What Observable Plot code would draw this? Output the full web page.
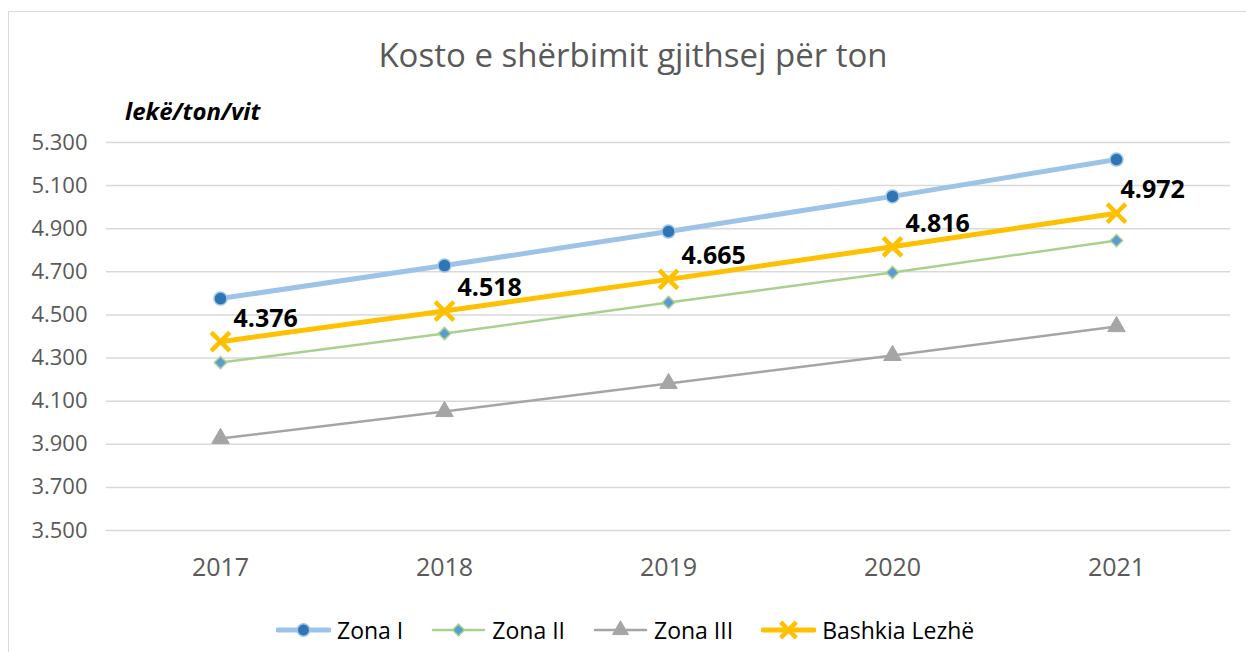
<!DOCTYPE html>
<html>
<head>
<meta charset="utf-8">
<script src="https://cdn.jsdelivr.net/npm/d3@7"></script>
<script src="https://cdn.jsdelivr.net/npm/@observablehq/plot@0.6"></script>
<style>
  html, body { margin: 0; padding: 0; background: #fff; }
  body { width: 1246px; height: 652px; position: relative; overflow: hidden; font-family: "Open Sans", sans-serif; }
  #frame { position: absolute; left: 8px; top: 11px; width: 1260px; height: 680px; border: 1.5px solid #d9d9d9; box-sizing: border-box; }
  #title { position: absolute; left: 0; width: 1266px; top: 32px; text-align: center; font-size: 33px; color: #595959; }
  #ylab { position: absolute; left: 125px; top: 94px; font-size: 24px; font-weight: bold; font-style: italic; color: #000; }
  #chart { position: absolute; left: 0; top: 0; }
  #legend { position: absolute; left: 276px; top: 614px; display: flex; align-items: center; font-size: 23px; color: #000; }
  .item { display: flex; align-items: center; margin-right: 28px; }
  .item svg { margin-right: 6px; }
</style>
</head>
<body>
<div id="frame"></div>
<div id="title">Kosto e shërbimit gjithsej për ton</div>
<div id="ylab">lekë/ton/vit</div>
<div id="chart"></div>
<div id="legend"></div>
<script>
const years = ["2017", "2018", "2019", "2020", "2021"];
const zonaI = [4576, 4729, 4887, 5050, 5221];
const zonaII = [4279, 4414, 4558, 4697, 4845];
const zonaIII = [3927, 4052, 4182, 4312, 4446];
const lezhe = [4376, 4518, 4665, 4816, 4972];
const yTicks = [3500, 3700, 3900, 4100, 4300, 4500, 4700, 4900, 5100, 5300];
const seriesNames = ["Zona I", "Zona II", "Zona III", "Bashkia Lezhë"];

const fmt = d3.formatLocale({decimal: ",", thousands: ".", grouping: [3], currency: ["", ""]}).format(",d");
const rows = (vals) => years.map((y, i) => ({year: y, value: vals[i]}));
const dI = rows(zonaI), dII = rows(zonaII), dIII = rows(zonaIII), dL = rows(lezhe);

const chart = Plot.plot({
  width: 1246,
  height: 600,
  marginTop: 142,
  marginBottom: 70,
  marginLeft: 106,
  marginRight: 16,
  style: {fontFamily: "Open Sans, sans-serif", background: "transparent"},
  x: {type: "point", domain: years, padding: 0.5},
  y: {domain: [3500, 5300]},
  marks: [
    Plot.gridY(yTicks, {stroke: "#d9d9d9", strokeOpacity: 1, strokeWidth: 1.5}),
    Plot.axisY({ticks: yTicks, tickSize: 0, tickPadding: 19, tickFormat: fmt, fontSize: 22, color: "#595959", label: null}),
    Plot.axisX({tickSize: 0, tickPadding: 28, fontSize: 25, color: "#595959", label: null}),
    Plot.line(dI, {x: "year", y: "value", stroke: "#9DC3E6", strokeWidth: 5}),
    Plot.dot(dI, {x: "year", y: "value", symbol: "circle", r: 6.5, fill: "#2E75B6", stroke: "#9DC3E6", strokeWidth: 1.5}),
    Plot.line(dII, {x: "year", y: "value", stroke: "#A9D18E", strokeWidth: 2.5}),
    Plot.dot(dII, {x: "year", y: "value", symbol: "diamond2", r: 5.5, fill: "#5B9BD5", stroke: "#A9D18E", strokeWidth: 1.5}),
    Plot.line(dIII, {x: "year", y: "value", stroke: "#A5A5A5", strokeWidth: 2.5}),
    Plot.dot(dIII, {x: "year", y: "value", symbol: "triangle", r: 6.5, fill: "#A5A5A5", stroke: "#A5A5A5", strokeWidth: 1}),
    Plot.line(dL, {x: "year", y: "value", stroke: "#FFC000", strokeWidth: 5}),
    Plot.dot(dL, {x: "year", y: "value", symbol: "times", r: 8.5, stroke: "#FFC000", strokeWidth: 4.5}),
    Plot.text(dL, {filter: (d, i) => i < 4, x: "year", y: "value", text: d => fmt(d.value), dx: 13, dy: -23, textAnchor: "start", fontSize: 25, fontWeight: "bold", fill: "#000"}),
    Plot.text(dL, {filter: (d, i) => i === 4, x: "year", y: "value", text: d => fmt(d.value), dx: 4, dy: -23, textAnchor: "start", fontSize: 25, fontWeight: "bold", fill: "#000"})
  ]
});
document.getElementById("chart").appendChild(chart);

// Legend
const legendStyles = [
  {line: "#9DC3E6", w: 5, sym: "circle", fill: "#2E75B6", stroke: "#9DC3E6", sw: 1.5, size: 120},
  {line: "#A9D18E", w: 2.5, sym: "diamond", fill: "#5B9BD5", stroke: "#A9D18E", sw: 1.5, size: 70},
  {line: "#A5A5A5", w: 2.5, sym: "triangle", fill: "#A5A5A5", stroke: "#A5A5A5", sw: 1, size: 110},
  {line: "#FFC000", w: 5, sym: "times", fill: "none", stroke: "#FFC000", sw: 4.5, size: 160}
];
const symMap = {circle: d3.symbolCircle, diamond: d3.symbolSquare, triangle: d3.symbolTriangle, times: d3.symbolTimes};
const legend = d3.select("#legend");
seriesNames.forEach((name, i) => {
  const s = legendStyles[i];
  const item = legend.append("div").attr("class", "item");
  const svg = item.append("svg").attr("width", 55).attr("height", 24);
  svg.append("line").attr("x1", 2).attr("x2", 53).attr("y1", 12).attr("y2", 12)
    .attr("stroke", s.line).attr("stroke-width", s.w).attr("stroke-linecap", "round");
  svg.append("path").attr("d", d3.symbol(symMap[s.sym], s.size)())
    .attr("transform", `translate(27.5,12)${s.sym === "diamond" ? " rotate(45)" : ""}`)
    .attr("fill", s.fill).attr("stroke", s.stroke).attr("stroke-width", s.sw);
  item.append("span").text(name);
});
</script>
</body>
</html>
